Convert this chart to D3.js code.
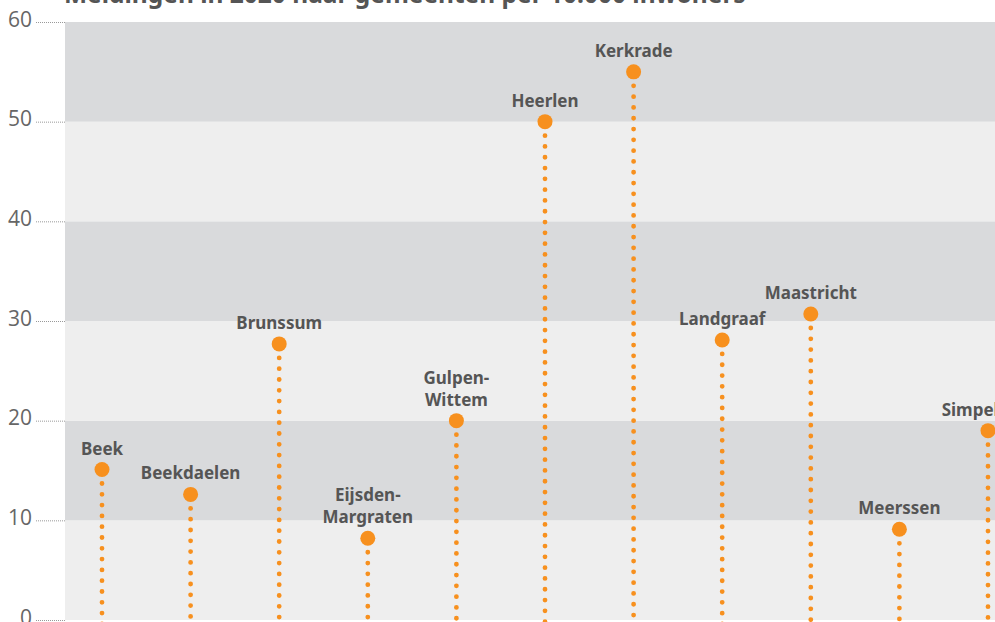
<!DOCTYPE html>
<html>
<head>
<meta charset="utf-8">
<script src="https://d3js.org/d3.v7.min.js"></script>
<style>
  body { margin: 0; background: #fff; }
  svg { display: block; font-family: "Noto Sans", Roboto, sans-serif; }
</style>
</head>
<body>
<div id="graph"></div>
<script>

// Data
var gemeenten = ['Beek', 'Beekdaelen', 'Brunssum', 'Eijsden-Margraten', 'Gulpen-Wittem',
  'Heerlen', 'Kerkrade', 'Landgraaf', 'Maastricht', 'Meerssen', 'Simpelveld']
var labels = [['Beek'], ['Beekdaelen'], ['Brunssum'], ['Eijsden-', 'Margraten'], ['Gulpen-', 'Wittem'],
  ['Heerlen'], ['Kerkrade'], ['Landgraaf'], ['Maastricht'], ['Meerssen'], ['Simpelveld']]
var meldingen = [15.1, 12.6, 27.7, 8.2, 20.0, 50.0, 55.0, 28.1, 30.7, 9.1, 19.0]
var yTicks = [0, 10, 20, 30, 40, 50, 60]
var title = 'Meldingen in 2020 naar gemeenten per 10.000 inwoners'

var data = gemeenten.map(function(g, i) {
  return {name: g, label: labels[i], value: meldingen[i]}
})

var W = 995, H = 622
var margin = {left: 65, top: 22, bottom: 620}

var svg = d3.select('#graph')
  .append('svg')
  .attr('width', W)
  .attr('height', H)

var y = d3.scaleLinear()
  .domain([0, 60])
  .range([margin.bottom, margin.top])

var x = d3.scalePoint()
  .domain(gemeenten)
  .range([102, 988])

// Background bands
var bands = d3.range(0, 60, 10)
svg.append('g')
  .selectAll('rect')
  .data(bands)
  .join('rect')
    .attr('x', margin.left)
    .attr('width', W - margin.left)
    .attr('y', function(d) { return y(d + 10) })
    .attr('height', function(d) { return y(d) - y(d + 10) })
    .attr('fill', function(d, i) { return i % 2 ? '#d9dadc' : '#eeeeee' })

// Y axis
var yAxis = svg.append('g')
  .attr('transform', 'translate(' + margin.left + ',0)')
  .call(d3.axisLeft(y).tickValues(yTicks).tickSize(29).tickPadding(4))

yAxis.select('.domain').remove()
yAxis.selectAll('line')
  .attr('stroke', '#999')
  .attr('stroke-dasharray', '1 1')
yAxis.selectAll('text')
  .attr('fill', '#666')
  .style('font-size', '21px')
  .style('font-family', '"Open Sans", sans-serif')
  .attr('dy', '0.2em')

// Title (cut off at the top)
svg.append('text')
  .attr('x', 64)
  .attr('y', 3)
  .attr('fill', '#555')
  .style('font-size', '24.5px')
  .style('font-weight', 'bold')
  .text(title)

// Dotted stems
svg.append('g')
  .selectAll('line')
  .data(data)
  .join('line')
    .attr('x1', function(d) { return x(d.name) })
    .attr('x2', function(d) { return x(d.name) })
    .attr('y1', function(d) { return y(d.value) + 14 })
    .attr('y2', margin.bottom + 4)
    .attr('stroke', '#f7901e')
    .attr('stroke-width', 4.8)
    .attr('stroke-linecap', 'round')
    .attr('stroke-dasharray', '0 10.8')

// Dots
svg.append('g')
  .selectAll('circle')
  .data(data)
  .join('circle')
    .attr('cx', function(d) { return x(d.name) })
    .attr('cy', function(d) { return y(d.value) })
    .attr('r', 7.5)
    .attr('fill', '#f7901e')

// Labels
var lab = svg.append('g')
  .selectAll('text')
  .data(data)
  .join('text')
    .attr('x', function(d) { return x(d.name) })
    .attr('y', function(d) { return y(d.value) - 15 - (d.label.length - 1) * 22 })
    .attr('text-anchor', 'middle')
    .attr('fill', '#555')
    .style('font-size', '17px')
    .style('font-weight', 'bold')

lab.selectAll('tspan')
  .data(function(d) { return d.label })
  .join('tspan')
    .attr('x', function() { return d3.select(this.parentNode).attr('x') })
    .attr('dy', function(d, i) { return i ? 22 : 0 })
    .text(function(d) { return d })

</script>
</body>
</html>
